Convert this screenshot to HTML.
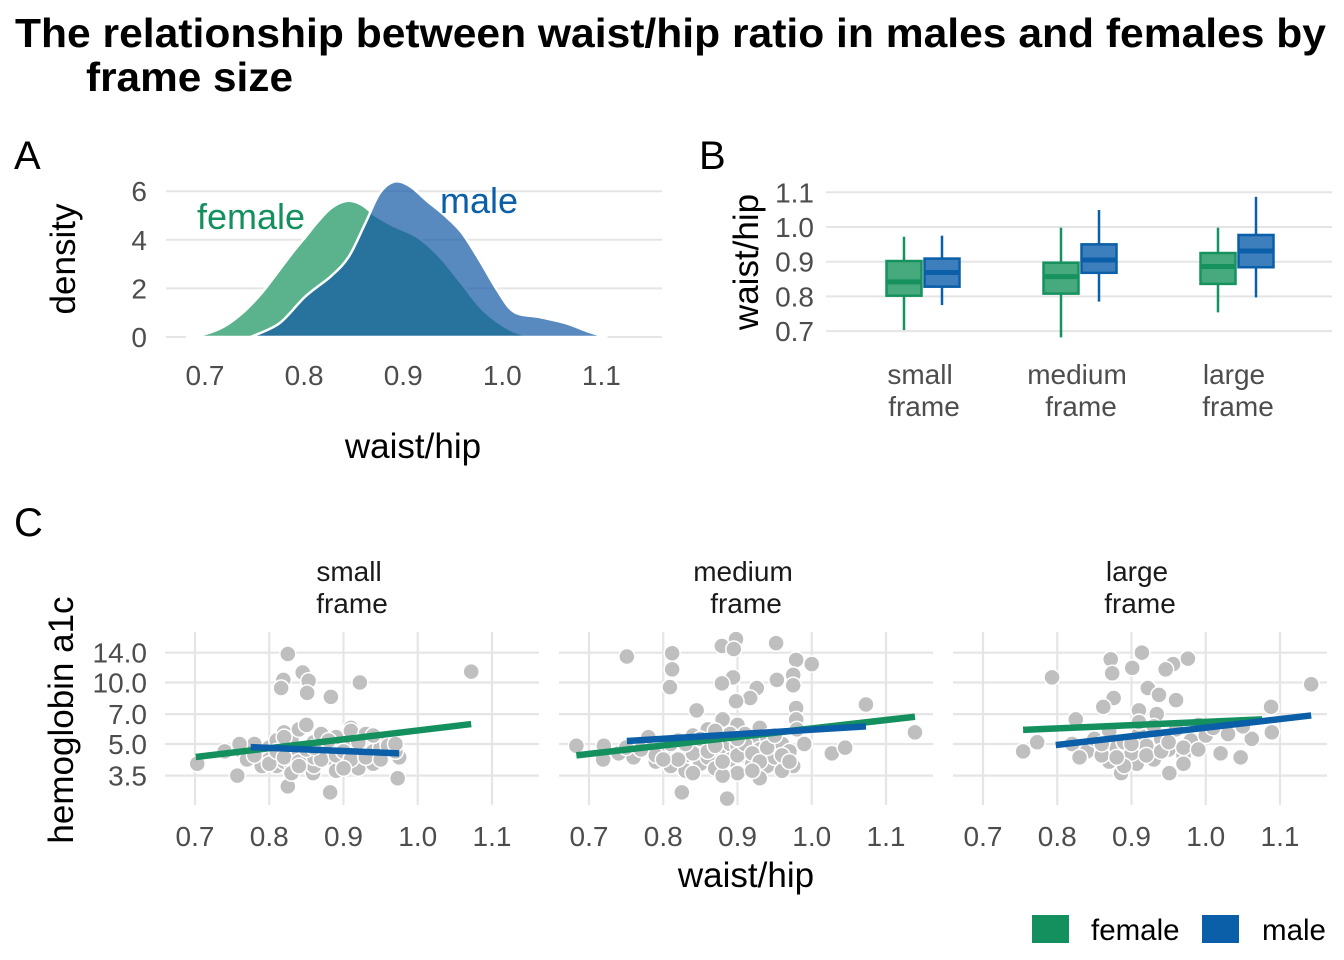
<!DOCTYPE html>
<html><head><meta charset="utf-8"><style>
html,body{margin:0;padding:0;background:#fff;}
svg{display:block;font-family:"Liberation Sans",Arial,sans-serif;}
</style></head><body>
<svg id="chart" width="1344" height="960" viewBox="0 0 1344 960" xmlns="http://www.w3.org/2000/svg">
<rect width="1344" height="960" fill="#fff"/>
<g font-weight="bold" font-size="41" fill="#000">
<text x="15" y="47" textLength="1311" lengthAdjust="spacingAndGlyphs">The relationship between waist/hip ratio in males and females by</text>
<text x="86" y="91" textLength="207" lengthAdjust="spacingAndGlyphs">frame size</text>
</g>
<text x="14" y="169" font-size="40">A</text>
<text x="699" y="169" font-size="40">B</text>
<text x="14" y="536" font-size="40">C</text>
<g id="pa"></g>
<g id="pb"></g>
<g id="pc"></g>
<g>
<rect x="1032" y="915" width="37" height="28" fill="#14905f"/>
<text x="1091" y="940" font-size="29.5" fill="#000">female</text>
<rect x="1202" y="915" width="37" height="28" fill="#0b5ea8"/>
<text x="1262" y="940" font-size="29.5" fill="#000">male</text>
</g>
</svg>
<script>
// ---------- Panel A data ----------
const femX = [0.682,0.70,0.72,0.739,0.757,0.775,0.788,0.801,0.814,0.827,0.843,0.858,0.872,0.889,0.915,0.937,0.959,0.981,1.008,1.03];
const femD = [0,0.12,0.45,1.03,1.8,2.75,3.45,4.1,4.75,5.3,5.6,5.45,5.0,4.6,4.1,3.3,2.2,1.1,0.3,0];
const maleX = [0.746,0.775,0.801,0.827,0.845,0.862,0.876,0.891,0.907,0.924,0.942,0.959,0.977,0.995,1.012,1.038,1.065,1.085,1.105];
const maleD = [0,0.56,1.66,2.5,3.3,4.7,5.9,6.4,6.2,5.6,5.0,4.3,3.16,1.92,1.03,0.82,0.56,0.25,0];
const aXTicks = [0.7,0.8,0.9,1.0,1.1];
const aYTicks = [0,2,4,6];
// ---------- Panel B data ----------
const frames = ["small","medium","large"];
const femBox = [[0.703,0.802,0.842,0.902,0.972],[0.682,0.808,0.857,0.897,0.998],[0.754,0.836,0.886,0.925,0.998]];
const maleBox = [[0.775,0.828,0.869,0.909,0.975],[0.785,0.868,0.905,0.950,1.049],[0.797,0.884,0.931,0.977,1.087]];
const bYTicks = [0.7,0.8,0.9,1.0,1.1];
// ---------- Panel C data ----------
const cXTicks = [0.7,0.8,0.9,1.0,1.1];
const cYTicks = [3.5,5,7,10,14];
const cYLabels = ["3.5","5.0","7.0","10.0","14.0"];
const ptsSmall = [[0.825,13.8],[1.072,11.3],[0.922,10.0],[0.819,10.3],[0.845,11.2],[0.853,10.2],[0.816,9.4],[0.851,8.9],[0.883,8.5],[0.703,4.0],[0.757,3.5],[0.825,3.1],[0.882,2.9],[0.973,3.4],[0.859,3.6],[0.975,4.3],
[0.74,4.6],[0.76,4.7],[0.78,5.0],[0.79,4.5],[0.80,4.8],[0.80,4.2],[0.81,3.9],[0.82,5.7],[0.82,4.1],[0.83,5.3],[0.83,4.0],[0.84,4.6],[0.84,5.9],[0.85,6.2],[0.85,4.4],[0.86,5.1],[0.86,3.9],[0.87,4.9],[0.87,5.6],[0.88,4.3],[0.88,4.7],[0.89,3.7],[0.90,5.0],[0.90,4.1],[0.91,6.0],[0.91,5.8],[0.92,4.5],[0.92,3.8],[0.93,5.6],[0.94,4.6],[0.94,4.0],[0.95,4.8],[0.96,5.1],[0.97,4.6],[0.79,3.9],[0.77,4.2],[0.83,3.6],[0.86,4.3],[0.89,5.4],[0.81,5.2],[0.76,5.0],[0.96,4.9],
[0.78,4.4],[0.80,4.0],[0.81,4.6],[0.82,4.3],[0.84,4.1],[0.85,4.7],[0.87,4.2],[0.88,5.2],[0.89,4.4],[0.90,4.6],[0.91,4.2],[0.92,5.1],[0.93,4.3],[0.95,4.2],[0.84,3.9],[0.86,4.8],[0.90,3.8],[0.94,5.5],[0.97,5.0],[0.82,5.4]];
const ptsMedium = [[0.751,13.4],[0.812,13.9],[0.812,11.6],[0.809,9.5],[0.879,15.1],[0.898,16.3],[0.895,14.6],[0.952,15.6],[0.979,12.9],[1.0,12.3],[0.975,10.9],[0.894,10.6],[0.879,9.9],[0.953,10.3],[0.926,9.4],[0.917,8.4],[0.975,9.7],[0.898,8.1],[0.845,7.3],[1.073,7.8],[0.979,7.5],[0.979,6.6],[1.139,5.7],[0.683,4.9],[0.719,4.2],[0.825,2.9],[0.886,2.7],[1.027,4.5],[1.045,4.8],[0.975,3.9],
[0.72,4.9],[0.74,4.5],[0.76,4.3],[0.78,5.4],[0.79,4.1],[0.80,4.6],[0.81,3.9],[0.82,5.2],[0.83,4.4],[0.83,3.7],[0.84,5.5],[0.85,4.8],[0.85,4.0],[0.86,5.9],[0.86,4.3],[0.87,5.3],[0.87,3.8],[0.88,6.6],[0.88,4.6],[0.89,5.0],[0.89,4.2],[0.90,3.6],[0.90,6.2],[0.90,4.9],[0.91,4.4],[0.91,5.6],[0.92,4.0],[0.92,5.2],[0.93,4.7],[0.93,6.0],[0.94,3.9],[0.94,5.4],[0.95,4.3],[0.96,5.0],[0.96,3.7],[0.97,4.6],[0.98,5.9],[0.99,5.0],[0.88,3.5],[0.84,3.6],[0.93,3.4],
[0.77,4.7],[0.79,4.4],[0.81,5.0],[0.82,4.2],[0.84,4.5],[0.85,5.3],[0.86,4.6],[0.87,4.9],[0.88,4.1],[0.89,5.6],[0.90,4.4],[0.91,5.0],[0.92,4.5],[0.93,4.1],[0.94,4.8],[0.95,5.5],[0.96,4.4],[0.87,5.8],[0.90,5.3],[0.83,5.0],[0.80,4.2],[0.75,4.8],[0.97,4.1],[0.92,3.7]];
const ptsLarge = [[0.793,10.6],[0.872,13.0],[0.914,14.0],[0.874,11.1],[0.901,11.8],[0.956,12.3],[0.946,11.6],[0.976,13.1],[1.142,9.8],[0.922,9.4],[0.937,8.7],[0.960,8.2],[0.876,8.4],[0.862,7.6],[0.91,7.3],[0.934,7.0],[0.825,6.6],[1.088,7.6],[1.089,5.7],[1.062,5.3],[0.754,4.6],[0.773,5.1],[1.02,4.5],[1.047,4.3],[0.886,3.6],[0.951,3.6],[0.87,4.1],[0.907,4.0],
[0.82,5.0],[0.84,4.6],[0.85,5.3],[0.86,4.4],[0.87,5.8],[0.88,4.8],[0.89,5.1],[0.90,4.5],[0.91,5.6],[0.92,4.9],[0.93,4.2],[0.94,5.3],[0.95,4.7],[0.96,5.9],[0.97,4.4],[0.98,5.2],[0.99,6.2],[1.00,5.5],[1.01,6.0],[1.03,5.6],[1.05,6.1],[0.83,4.3],[0.97,4.0],[0.89,3.9],
[0.86,5.0],[0.88,4.3],[0.90,5.0],[0.92,4.4],[0.94,4.6],[0.95,5.1],[0.97,4.8],[0.99,4.7],[0.91,6.4],[0.93,6.1]];
const lineF = [[[0.701,4.32],[1.072,6.26]],[[0.683,4.4],[1.139,6.8]],[[0.754,5.86],[1.076,6.6]]];
const lineM = [[[0.775,4.83],[0.975,4.5]],[[0.751,5.17],[1.073,6.1]],[[0.798,4.94],[1.142,6.9]]];
const cPts = [ptsSmall, ptsMedium, ptsLarge];

const NS = "http://www.w3.org/2000/svg";
function mk(parent, tag, attrs, text){
  const e = document.createElementNS(NS, tag);
  for (const k in attrs) e.setAttribute(k, attrs[k]);
  if (text !== undefined) e.textContent = text;
  parent.appendChild(e);
  return e;
}
const GREEN = "#14905f", BLUE = "#0b5ea8", GRID = "#e5e5e5", TICK = "#4d4d4d";
const TFS = 28;

// ---------- Panel A ----------
(function(){
  const g = document.getElementById("pa");
  const ax = v => 205 + (v - 0.7) * 991;
  const ay = v => 337 - v * 24.3;
  aYTicks.forEach(t => {
    const l = mk(g, "line", {x1:166, x2:662, y1:ay(t), y2:ay(t), stroke:GRID, "stroke-width":2});
    
    
    const tx = mk(g, "text", {x:147, y:ay(t)+10, "font-size":TFS, fill:TICK, "text-anchor":"end"}, String(t));
    
    
  });
  aXTicks.forEach(t => {
    const tx = mk(g, "text", {x:ax(t), y:385, "font-size":TFS, fill:TICK, "text-anchor":"middle"}, t.toFixed(1));
    
    
  });
  function area(xs, ds){
    const P = xs.map((x,i) => [ax(x), ay(ds[i])]);
    let d = "M" + P[0][0].toFixed(1) + "," + P[0][1].toFixed(1);
    for (let i = 0; i < P.length - 1; i++) {
      const p0 = P[Math.max(0,i-1)], p1 = P[i], p2 = P[i+1], p3 = P[Math.min(P.length-1,i+2)];
      const c1 = [p1[0] + (p2[0]-p0[0])/6, p1[1] + (p2[1]-p0[1])/6];
      const c2 = [p2[0] - (p3[0]-p1[0])/6, p2[1] - (p3[1]-p1[1])/6];
      d += " C" + c1[0].toFixed(1) + "," + Math.min(c1[1],ay(0)).toFixed(1) + " " + c2[0].toFixed(1) + "," + Math.min(c2[1],ay(0)).toFixed(1) + " " + p2[0].toFixed(1) + "," + p2[1].toFixed(1);
    }
    d += " Z";
    return d;
  }
  const f = mk(g, "path", {d:area(femX, femD), fill:"#5bb38d", stroke:"#fff", "stroke-width":2.5, "stroke-linejoin":"round"});
  
  
  const m = mk(g, "path", {d:area(maleX, maleD), fill:"rgb(19,89,164)", "fill-opacity":0.7, stroke:"#fff", "stroke-width":2.5, "stroke-linejoin":"round"});
  
  
  const lf = mk(g, "text", {x:197, y:229, "font-size":36, fill:GREEN}, "female");
  
  
  const lm = mk(g, "text", {x:440, y:213, "font-size":36, fill:BLUE}, "male");
  
  
  const yt = mk(g, "text", {x:0, y:0, "font-size":35, fill:"#000", "text-anchor":"middle", transform:"translate(75,259) rotate(-90)"}, "density");
  
  
  const xt = mk(g, "text", {x:413, y:458, "font-size":35, fill:"#000", "text-anchor":"middle"}, "waist/hip");
  
  
})();

// ---------- Panel B ----------
(function(){
  const g = document.getElementById("pb");
  const by = v => 192.3 + (1.1 - v) * 347;
  const bx = i => 923 + i * 157;
  bYTicks.forEach(t => {
    const l = mk(g, "line", {x1:826, x2:1332, y1:by(t), y2:by(t), stroke:GRID, "stroke-width":2});
    
    
    const tx = mk(g, "text", {x:814, y:by(t)+10, "font-size":TFS, fill:TICK, "text-anchor":"end"}, t.toFixed(1));
    
    
  });
  function box(cx, s, col, fill, name){
    const w = 35;
    const grp = mk(g, "g", {});
    
    
    mk(grp, "line", {x1:cx, x2:cx, y1:by(s[4]), y2:by(s[3]), stroke:col, "stroke-width":2.5});
    mk(grp, "line", {x1:cx, x2:cx, y1:by(s[1]), y2:by(s[0]), stroke:col, "stroke-width":2.5});
    mk(grp, "rect", {x:cx-w/2, y:by(s[3]), width:w, height:by(s[1])-by(s[3]), fill:fill, stroke:col, "stroke-width":2.5});
    mk(grp, "line", {x1:cx-w/2, x2:cx+w/2, y1:by(s[2]), y2:by(s[2]), stroke:col, "stroke-width":5});
  }
  frames.forEach((fr, i) => {
    box(bx(i)-19, femBox[i], "#16925f", "#47a97e", "box-female-" + fr);
    box(bx(i)+19, maleBox[i], BLUE, "#3d7fbd", "box-male-" + fr);
    const t1 = mk(g, "text", {x:bx(i)-3, y:384, "font-size":TFS, fill:TICK, "text-anchor":"middle"}, fr);
    
    
    const t2 = mk(g, "text", {x:bx(i)+1, y:416, "font-size":TFS, fill:TICK, "text-anchor":"middle"}, "frame");
    
    
  });
  const yt = mk(g, "text", {x:0, y:0, "font-size":35, fill:"#000", "text-anchor":"middle", transform:"translate(758,262) rotate(-90)"}, "waist/hip");
  
  
})();

// ---------- Panel C ----------
(function(){
  const g = document.getElementById("pc");
  const cy = v => 744 - (Math.log(v) - Math.log(5)) * 88.7;
  frames.forEach((fr, i) => {
    const off = i * 394;
    const cx = v => 195 + off + (v - 0.7) * 742.5;
    const fg = mk(g, "g", {});
    
    
    cYTicks.forEach(t => {
      const l = mk(fg, "line", {x1:165+off, x2:539+off, y1:cy(t), y2:cy(t), stroke:GRID, "stroke-width":2.2});
      
      
    });
    cXTicks.forEach(t => {
      const l = mk(fg, "line", {x1:cx(t), x2:cx(t), y1:632, y2:805, stroke:GRID, "stroke-width":2.2});
      
      
      const tx = mk(fg, "text", {x:cx(t), y:846, "font-size":TFS, fill:TICK, "text-anchor":"middle"}, t.toFixed(1));
      
      
    });
    const s1 = mk(fg, "text", {x:349+off, y:581, "font-size":TFS, fill:"#1a1a1a", "text-anchor":"middle"}, fr);
    
    
    const s2 = mk(fg, "text", {x:352+off, y:613, "font-size":TFS, fill:"#1a1a1a", "text-anchor":"middle"}, "frame");
    
    
    cPts[i].forEach(p => {
      const c = mk(fg, "circle", {cx:cx(p[0]), cy:cy(p[1]), r:8, fill:"#bfbfbf", stroke:"#fff", "stroke-width":1.5});
      
      
    });
    const lf = mk(fg, "line", {x1:cx(lineF[i][0][0]), y1:cy(lineF[i][0][1]), x2:cx(lineF[i][1][0]), y2:cy(lineF[i][1][1]), stroke:GREEN, "stroke-width":6.5});
    
    
    const lm = mk(fg, "line", {x1:cx(lineM[i][0][0]), y1:cy(lineM[i][0][1]), x2:cx(lineM[i][1][0]), y2:cy(lineM[i][1][1]), stroke:BLUE, "stroke-width":6.5});
    
    
  });
  cYTicks.forEach((t, k) => {
    const tx = mk(g, "text", {x:147, y:cy(t)+10, "font-size":TFS, fill:TICK, "text-anchor":"end"}, cYLabels[k]);
    
    
  });
  const yt = mk(g, "text", {x:0, y:0, "font-size":35, fill:"#000", "text-anchor":"middle", transform:"translate(73,720) rotate(-90)"}, "hemoglobin a1c");
  
  
  const xt = mk(g, "text", {x:746, y:887, "font-size":35, fill:"#000", "text-anchor":"middle"}, "waist/hip");
  
  
})();
</script>
</body></html>
